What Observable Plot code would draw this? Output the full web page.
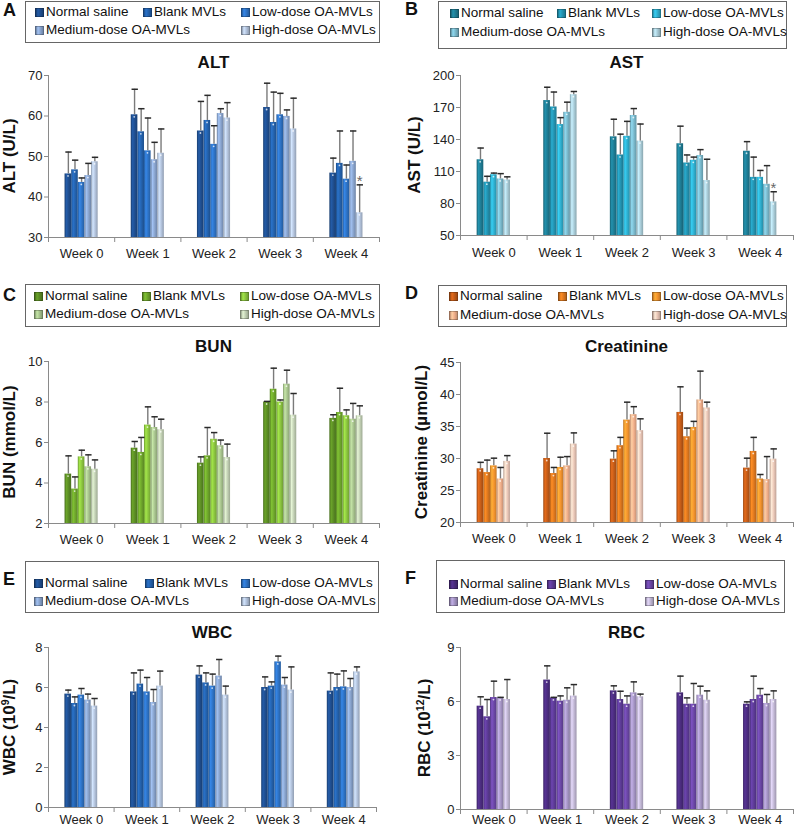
<!DOCTYPE html>
<html><head><meta charset="utf-8">
<script src="https://cdn.jsdelivr.net/npm/d3@7"></script>
<script src="https://cdn.jsdelivr.net/npm/@observablehq/plot@0.6"></script>
<style>
body{margin:0;background:#fff;font-family:"Liberation Sans",Arial,Helvetica,sans-serif;color:#111;}
#fig{position:relative;width:794px;height:829px;overflow:hidden;background:#fff;}
.abs{position:absolute;}
.letter{font-weight:bold;font-size:18px;line-height:18px;}
.legend{border:1px solid #666;box-sizing:border-box;}
.ltxt{font-size:13.5px;line-height:16px;white-space:nowrap;}
.sw{width:7px;height:7px;border:0.5px solid rgba(0,0,0,0.25);}
.title{font-weight:bold;font-size:17px;line-height:18px;white-space:nowrap;transform:translate(-50%,-50%);}
.ylab{font-weight:bold;font-size:17px;line-height:18px;white-space:nowrap;transform:translate(-50%,-50%) rotate(-90deg);}
sup{font-size:0.62em;vertical-align:0.55em;line-height:0;}
</style></head><body><div id="fig"></div>
<script>
const weeks = ["Week 0","Week 1","Week 2","Week 3","Week 4"];
const groups = ["Normal saline","Blank MVLs","Low-dose OA-MVLs","Medium-dose OA-MVLs","High-dose OA-MVLs"];

// rows = weeks, columns = groups
const altMean = [[45.7,46.7,43.6,45.3,48.7],[60.3,56.1,51.4,49.2,50.8],[56.3,58.9,53.0,60.6,59.5],[62.1,58.4,60.3,59.9,56.8],[45.9,48.3,44.4,48.8,36.1]];
const altErr  = [[5.4,2.4,1.1,3.0,1.1],[6.3,5.7,8.1,4.3,6.0],[7.3,6.2,4.6,1.2,3.8],[6.0,7.5,5.3,1.6,7.6],[3.7,8.0,3.5,7.5,6.9]];
const astMean = [[121,100,107,103,102],[176.5,170.5,154,165.5,182],[142.5,125.5,143,162.5,138.5],[136,118,120.5,125,101.5],[129,104.5,104.5,98,81.5]];
const astErr  = [[11,5.5,1.5,5,3],[12.5,14,6.5,9.5,3],[16.5,19.5,14,6.5,16],[16.5,7.5,3,5.5,20],[9,19,6.5,17.5,9.5]];
const bunMean = [[4.44,3.70,5.29,4.80,4.68],[5.72,5.51,6.86,6.74,6.63],[4.98,5.34,6.16,5.84,5.26],[8.0,8.63,8.0,8.88,7.35],[7.19,7.48,7.32,7.15,7.32]];
const bunErr  = [[0.90,0.60,0.33,0.59,0.46],[0.33,0.74,0.90,0.53,0.52],[0.31,1.40,0.33,0.28,0.66],[0.03,1.04,0.10,0.69,1.07],[0.18,1.20,0.29,0.78,0.49]];
const creMean = [[28.4,27.8,28.85,26.8,29.55],[30.0,27.65,28.6,28.85,32.25],[29.9,32.0,36.0,36.85,34.35],[37.2,33.4,34.85,39.15,37.9],[28.5,31.1,26.8,26.7,29.9]];
const creErr  = [[1.0,1.95,1.2,1.8,0.9],[3.95,0.95,1.6,1.45,1.75],[1.3,1.3,2.8,1.25,1.85],[4.0,1.35,0.95,4.5,0.9],[1.55,2.2,0.7,3.6,1.6]];
const wbcMean = [[5.67,5.2,5.62,5.37,5.07],[5.78,6.17,5.78,5.25,6.07],[6.62,6.23,6.07,6.57,5.62],[6.0,6.07,7.28,6.12,5.87],[5.82,6.0,6.03,6.0,6.78]];
const wbcErr  = [[0.2,0.33,0.33,0.3,0.38],[0.95,0.7,0.72,0.65,0.75],[0.46,0.5,0.6,0.83,0.45],[0.53,0.21,0.29,0.38,1.16],[0.91,0.67,0.8,0.45,0.25]];
const rbcMean = [[5.74,5.15,6.22,6.2,6.11],[7.19,6.2,6.02,6.07,6.3],[6.59,6.11,5.85,6.48,6.26],[6.48,5.85,5.85,6.35,6.07],[5.85,6.11,6.35,5.89,6.11]];
const rbcErr  = [[0.52,0.96,0.91,0.03,1.11],[0.79,0.03,0.29,0.69,0.64],[0.28,0.46,0.46,0.61,0.15],[0.93,0.35,1.15,0.5,0.52],[0.13,1.3,0.37,0.5,0.48]];
// significance marks: [week index, group index]
const altSig = [[4,4]];
const astSig = [[4,4]];

const blues   = ["#1f4e8f","#2462ad","#2e73c6","#8aa5cf","#b4c4dd"];
const teals   = ["#1e7c94","#2393b1","#2fb0d0","#7bbacd","#aacdd9"];
const greens  = ["#5b8c24","#6fa72c","#8cc63f","#a9c58f","#c3d1b5"];
const oranges = ["#c45c18","#e0791f","#f5952e","#f2b08c","#ebc8b8"];
const purples = ["#4b2c7f","#5d3b97","#6b47a6","#a696c6","#c3b9d6"];

const panels = [
 {id:"A", title:"ALT", ylab:"ALT (U/L)", mean:altMean, err:altErr, sig:altSig, colors:blues, domain:[30,70], ticks:[30,40,50,60,70],
  x0:48, x1:379, y0:75, y1:237, titleY:63, ylabX:10, letter:[3,1], pad:11,
  box:[25,1,380,43], rows:[12,30], cols:[35,143,241]},
 {id:"B", title:"AST", ylab:"AST (U/L)", mean:astMean, err:astErr, sig:astSig, colors:teals, domain:[50,200], ticks:[50,80,110,140,170,200],
  x0:460, x1:793, y0:75, y1:235, titleY:63, ylabX:415, letter:[405,0], pad:12,
  box:[438,1,787,49], rows:[13,32], cols:[450,557,652]},
 {id:"C", title:"BUN", ylab:"BUN (mmol/L)", mean:bunMean, err:bunErr, sig:[], colors:greens, domain:[2,10], ticks:[2,4,6,8,10],
  x0:48, x1:379, y0:361, y1:523, titleY:347, ylabX:10, letter:[3,286], pad:11,
  box:[25,284,380,327], rows:[296,314], cols:[34,142,240]},
 {id:"D", title:"Creatinine", ylab:"Creatinine (\u00b5mol/L)", mean:creMean, err:creErr, sig:[], colors:oranges, domain:[20,45], ticks:[20,25,30,35,40,45],
  x0:460, x1:793, y0:362, y1:522, titleY:347, ylabX:422, letter:[405,284], pad:11,
  box:[438,285,787,327], rows:[296,315], cols:[449,558,652]},
 {id:"E", title:"WBC", ylab:"WBC (10<sup>9</sup>/L)", mean:wbcMean, err:wbcErr, sig:[], colors:blues, domain:[0,8], ticks:[0,2,4,6,8],
  x0:48, x1:376, y0:647, y1:807, titleY:633, ylabX:10, letter:[3,570], pad:7,
  box:[25,561,379,613], rows:[583,601], cols:[34,145,241]},
 {id:"F", title:"RBC", ylab:"RBC (10<sup>12</sup>/L)", mean:rbcMean, err:rbcErr, sig:[], colors:purples, domain:[0,9], ticks:[0,3,6,9],
  x0:460, x1:793, y0:647, y1:809, titleY:633, ylabX:425, letter:[405,569], pad:5,
  box:[436,560,785,613], rows:[584,601], cols:[449,547,645]}
];

const fig = document.getElementById("fig");
function el(cls, x, y, html, style) {
  const d = document.createElement("div");
  d.className = "abs " + cls;
  d.style.left = x + "px"; d.style.top = y + "px";
  if (style) Object.assign(d.style, style);
  d.innerHTML = html;
  fig.appendChild(d);
  return d;
}
function grad(c) {
  const base = d3.color(c);
  return [[0, base.darker(0.7)], [0.28, base.brighter(0.45)], [0.62, base], [1, base.darker(0.6)]];
}

panels.forEach(p => {
  el("letter", p.letter[0], p.letter[1], p.id);
  const [bl, bt, br, bb] = p.box;
  el("legend", bl, bt, "", {width:(br-bl)+"px", height:(bb-bt)+"px"});
  const slots = [[0,0],[1,0],[2,0],[0,1],[2,1]];
  groups.forEach((g, j) => {
    const [ci, ri] = slots[j];
    const cx = p.cols[ci], cy = p.rows[ri];
    const stops = grad(p.colors[j]).map(([o,c]) => `${c.formatHex()} ${o*100}%`).join(",");
    el("sw", cx, cy-4, "", {background:`linear-gradient(90deg,${stops})`});
    el("ltxt", cx+11, cy-8.5, g);
  });
  el("title", (p.x0+p.x1)/2, p.titleY, p.title);
  el("ylab", p.ylabX, (p.y0+p.y1)/2, p.ylab);

  const mL = 40, mR = 2, mT = 10, mB = 28;
  const rows = [];
  p.mean.forEach((wk, i) => wk.forEach((v, j) => rows.push({i, j, v, e: p.err[i][j]})));
  const bw = 0.1;
  const xl = d => d.i - 0.25 + d.j * bw;
  const marks = [];
  for (let j = 0; j < 5; j++) {
    marks.push(Plot.rectY(rows.filter(d => d.j === j), {
      x1: xl, x2: d => xl(d) + bw, y1: () => p.domain[0], y2: "v",
      fill: `url(#${p.id}g${j})`, insetLeft: 0, insetRight: 0
    }));
  }
  marks.push(Plot.dot(rows, {x: d => xl(d) + bw*0.45, y: "v", r: 0.9, fill: "#fff", fillOpacity: 0.75, stroke: null, dy: 2}));
  marks.push(Plot.ruleX(rows, {x: d => xl(d) + bw/2, y1: "v", y2: d => d.v + d.e, stroke: "#7a7a7a", strokeWidth: 1.4}));
  marks.push(Plot.ruleY(rows, {y: d => d.v + d.e, x1: d => xl(d) + bw*0.12, x2: d => xl(d) + bw*1.08, stroke: "#2a2a2a", strokeWidth: 1.5}));
  const sigRows = p.sig.map(([i, j]) => rows.find(d => d.i === i && d.j === j));
  marks.push(Plot.text(sigRows, {x: d => xl(d) + bw/2, y: d => d.v + d.e, text: () => "*", fontSize: 15, fill: "#666", dy: 1, lineAnchor: "bottom"}));
  marks.push(Plot.ruleX([-0.5], {y1: p.domain[0], y2: p.domain[1], stroke: "#8a8a8a"}));
  marks.push(Plot.ruleY([p.domain[0]], {x1: -0.5, x2: 4.5, stroke: "#8a8a8a"}));
  marks.push(Plot.axisY({ticks: p.ticks, tickSize: 4, tickPadding: 2, stroke: "#8a8a8a", fill: "#222", label: null, fontSize: 13}));
  marks.push(Plot.axisX({ticks: [-0.5,0.5,1.5,2.5,3.5,4.5], tickSize: 5, tickFormat: () => "", stroke: "#8a8a8a", label: null}));
  marks.push(Plot.axisX({ticks: [0,1,2,3,4], tickSize: 0, tickPadding: p.pad, tickFormat: i => weeks[i], fill: "#222", label: null, fontSize: 13}));

  const w = p.x1 - p.x0 + mL + mR;
  const h = p.y1 - p.y0 + mT + mB;
  const svg = Plot.plot({
    width: w, height: h,
    marginLeft: mL, marginRight: mR, marginTop: mT, marginBottom: mB,
    x: {domain: [-0.5, 4.5]},
    y: {domain: p.domain},
    style: {fontFamily: '"Liberation Sans", Arial, sans-serif', fontSize: "13px", background: "transparent", overflow: "visible"},
    marks
  });
  const defs = d3.select(svg).insert("defs", ":first-child");
  p.colors.forEach((c, j) => {
    const g = defs.append("linearGradient").attr("id", `${p.id}g${j}`).attr("x1", 0).attr("x2", 1).attr("y1", 0).attr("y2", 0);
    grad(c).forEach(([o, col]) => g.append("stop").attr("offset", o).attr("stop-color", col.formatHex()));
  });
  svg.style.position = "absolute";
  svg.style.left = (p.x0 - mL) + "px";
  svg.style.top = (p.y0 - mT) + "px";
  fig.appendChild(svg);
});
</script>
</body></html>
